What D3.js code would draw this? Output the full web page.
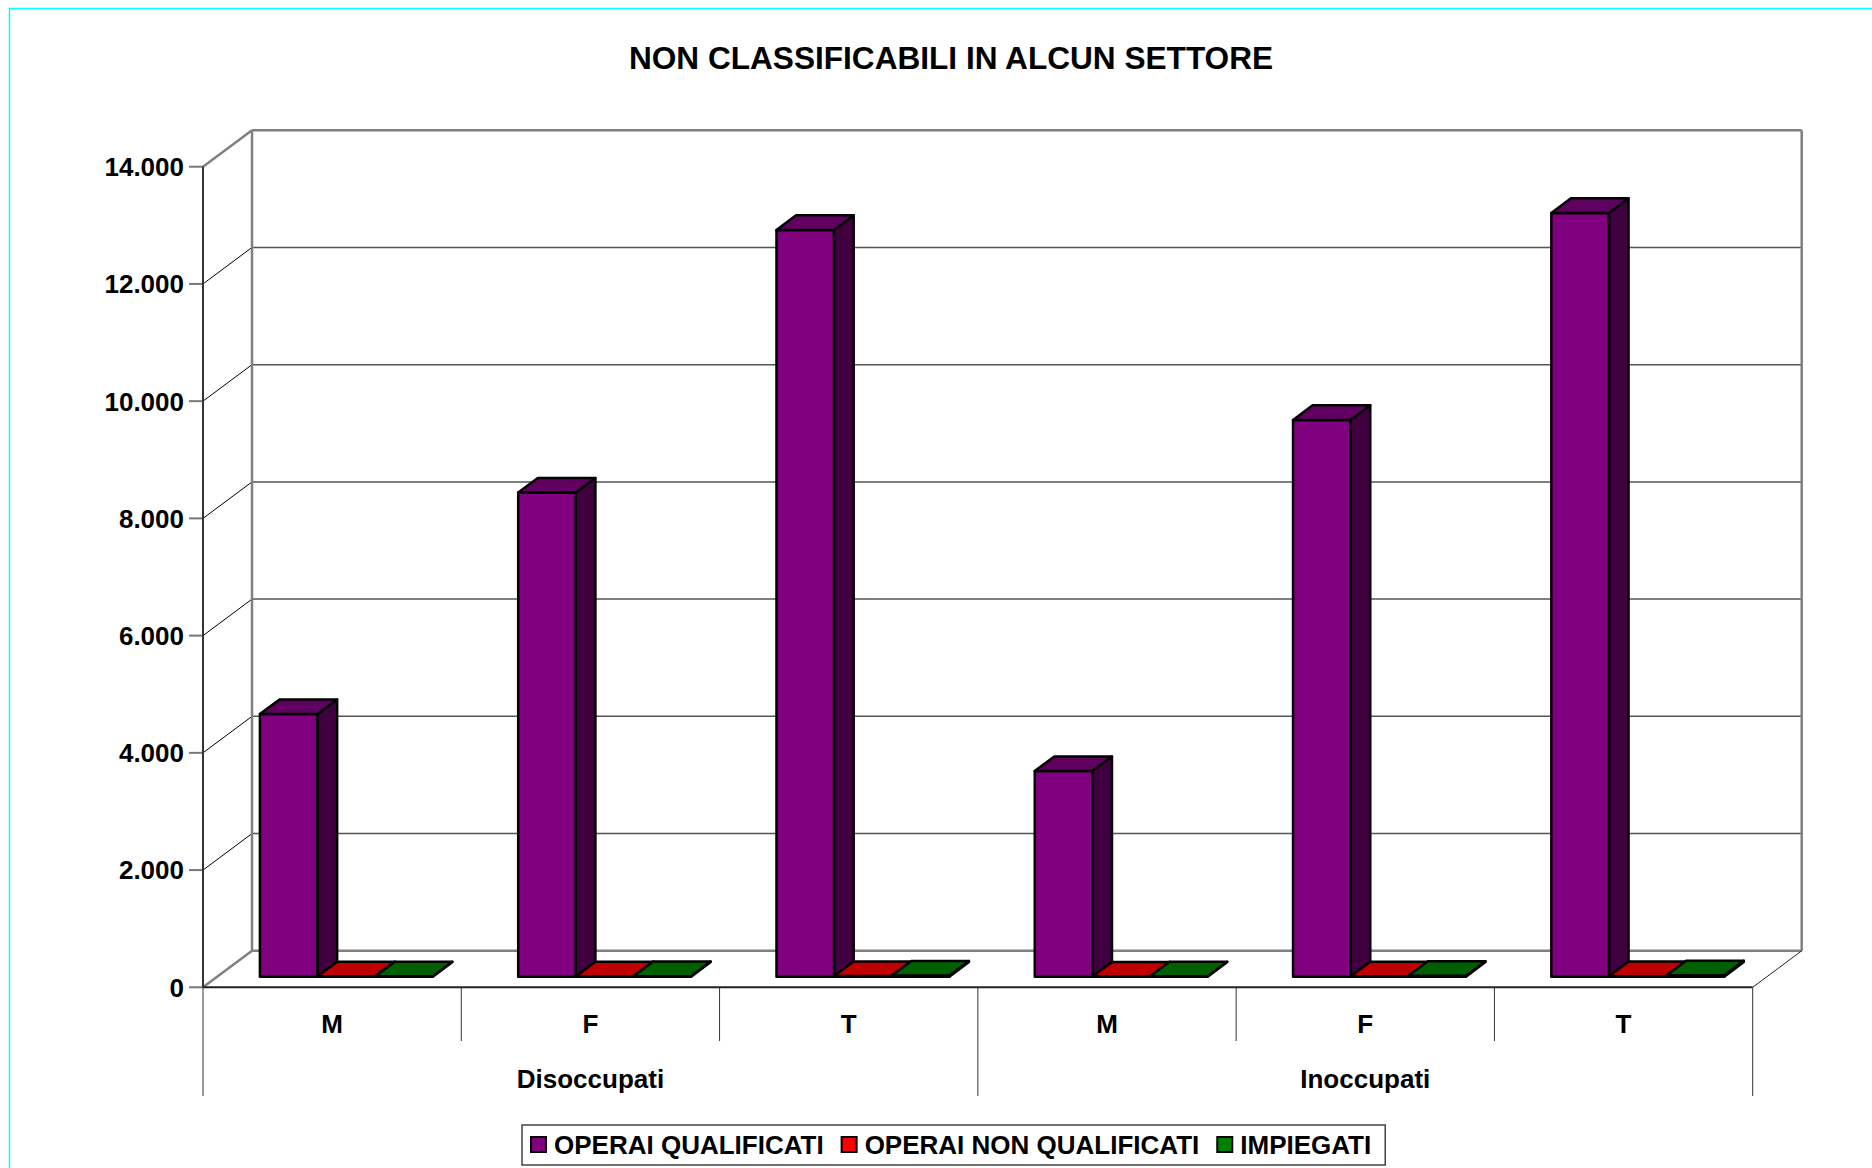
<!DOCTYPE html>
<html>
<head>
<meta charset="utf-8">
<script src="https://cdn.jsdelivr.net/npm/d3@7"></script>
<style>
  html, body { margin: 0; padding: 0; background: #fff; }
  svg { display: block; }
  text { font-family: "Liberation Sans", Arial, sans-serif; font-weight: bold; fill: #000; }
</style>
</head>
<body>
<svg id="chart" width="1872" height="1168"></svg>
<script>
// ---- data ----
const title = "NON CLASSIFICABILI IN ALCUN SETTORE";
const groups = ["Disoccupati", "Inoccupati"];
const subCategories = ["M", "F", "T"];
const categories = ["Disoccupati|M", "Disoccupati|F", "Disoccupati|T", "Inoccupati|M", "Inoccupati|F", "Inoccupati|T"];
const seriesNames = ["OPERAI QUALIFICATI", "OPERAI NON QUALIFICATI", "IMPIEGATI"];
const operaiQualificati = [4480, 8260, 12740, 3510, 9500, 13030];
const operaiNonQualificati = [6, 5, 12, 4, 6, 10];
const impiegati = [8, 10, 20, 6, 15, 25];
const yTicks = [0, 2000, 4000, 6000, 8000, 10000, 12000, 14000];
const yTickLabels = ["0", "2.000", "4.000", "6.000", "8.000", "10.000", "12.000", "14.000"];
const seriesColors = ["#800080", "#FF0000", "#008000"];
const frontColors = ["#800080", "#C00000", "#006000"];
const topColors = ["#600060", "#BF0000", "#006000"];
const sideColors = ["#400040", "#800000", "#004000"];

const seriesValues = [operaiQualificati, operaiNonQualificati, impiegati];

// ---- layout ----
const svg = d3.select("#chart");
const X0 = 203, X1 = 1752.7, YB = 987.3, YT = 166.7;
const DX = 49, DY = -36.5;           // depth vector of the 3D box
const F0 = 0.29, F1 = 0.69;          // depth fractions occupied by bars

const y = d3.scaleLinear().domain([0, 14000]).range([YB, YT]);
const x = d3.scaleBand().domain(categories).range([X0, X1]).padding(0);
const bw = x.bandwidth();
const pad = 42.7;
const xs = d3.scaleBand().domain(seriesNames).range([pad, bw - pad]).padding(0);

// cyan frame
svg.append("rect").attr("x", 9.5).attr("y", 8.5).attr("width", 1900).attr("height", 1200)
  .attr("fill", "none").attr("stroke", "#00FFFF").attr("stroke-width", 1.5);

// title
svg.append("text").attr("x", 951).attr("y", 69).attr("text-anchor", "middle")
  .attr("font-size", 31.6).text(title);

const g = svg.append("g");

// back wall gridlines
yTicks.forEach((t, i) => {
  const yy = y(t);
  const isEdge = (i === 0 || i === yTicks.length - 1);
  g.append("line").attr("x1", X0).attr("y1", yy).attr("x2", X0 + DX).attr("y2", yy + DY)
    .attr("stroke", isEdge ? "#808080" : "#000").attr("stroke-width", isEdge ? 2.5 : 1);
  g.append("line").attr("x1", X0 + DX).attr("y1", yy + DY).attr("x2", X1 + DX).attr("y2", yy + DY)
    .attr("stroke", isEdge ? "#808080" : "#555").attr("stroke-width", isEdge ? 2.5 : 1.5);
  g.append("line").attr("x1", X0 - 14).attr("y1", yy).attr("x2", X0).attr("y2", yy)
    .attr("stroke", "#777").attr("stroke-width", 2);
  svg.append("text").attr("x", X0 - 19).attr("y", yy).attr("dy", "0.36em")
    .attr("text-anchor", "end").attr("font-size", 26).text(yTickLabels[i]);
});
g.append("line").attr("x1", X0 + DX).attr("y1", y(0) + DY).attr("x2", X0 + DX).attr("y2", y(14000) + DY)
  .attr("stroke", "#808080").attr("stroke-width", 2.5);
g.append("line").attr("x1", X1 + DX).attr("y1", y(0) + DY).attr("x2", X1 + DX).attr("y2", y(14000) + DY)
  .attr("stroke", "#808080").attr("stroke-width", 2.5);
g.append("line").attr("x1", X0).attr("y1", YB).attr("x2", X0).attr("y2", YT)
  .attr("stroke", "#333").attr("stroke-width", 2);
g.append("line").attr("x1", X1).attr("y1", YB).attr("x2", X1 + DX).attr("y2", YB + DY)
  .attr("stroke", "#222").attr("stroke-width", 1);

// bars
const pts = p => p.map(d => d.join(",")).join(" ");
categories.forEach((c, ci) => {
  seriesNames.forEach((s, si) => {
    const v = seriesValues[si][ci];
    const xl = x(c) + xs(s) + F0 * DX;
    const xr = xl + xs.bandwidth();
    const ob = F0 * DY;
    const ddx = (F1 - F0) * DX, ddy = (F1 - F0) * DY;
    const yb = y(0) + ob, yt = y(v) + ob;
    const bar = g.append("g").attr("stroke", "#000").attr("stroke-width", 2.5).attr("stroke-linejoin", "round");
    bar.append("polygon").attr("points", pts([[xl, yb], [xr, yb], [xr, yt], [xl, yt]]))
      .attr("fill", frontColors[si]);
    bar.append("polygon").attr("points", pts([[xr, yb], [xr + ddx, yb + ddy], [xr + ddx, yt + ddy], [xr, yt]]))
      .attr("fill", sideColors[si]);
    bar.append("polygon").attr("points", pts([[xl, yt], [xr, yt], [xr + ddx, yt + ddy], [xl + ddx, yt + ddy]]))
      .attr("fill", topColors[si]);
  });
});

// floor front line & category axis
g.append("line").attr("x1", X0).attr("y1", YB).attr("x2", X1).attr("y2", YB)
  .attr("stroke", "#222").attr("stroke-width", 2);
categories.forEach((c, ci) => {
  const xx = x(c);
  const long = ci % 3 === 0;
  g.append("line").attr("x1", xx).attr("y1", YB).attr("x2", xx).attr("y2", long ? 1096 : 1041)
    .attr("stroke", "#333").attr("stroke-width", 1);
  svg.append("text").attr("x", xx + bw / 2).attr("y", 1024).attr("dy", "0.36em")
    .attr("text-anchor", "middle").attr("font-size", 26).text(c.split("|")[1]);
});
g.append("line").attr("x1", X1).attr("y1", YB).attr("x2", X1).attr("y2", 1096)
  .attr("stroke", "#333").attr("stroke-width", 1);
groups.forEach((gr, gi) => {
  const cx = x(categories[gi * 3 + 1]) + bw / 2;
  svg.append("text").attr("x", cx).attr("y", 1079).attr("dy", "0.36em")
    .attr("text-anchor", "middle").attr("font-size", 26).text(gr);
});

// legend
const leg = svg.append("g");
const legBox = leg.append("rect").attr("fill", "#fff").attr("stroke", "#444").attr("stroke-width", 1.5);
let lx = 531;
const ly = 1145;
seriesNames.forEach((s, si) => {
  leg.append("rect").attr("x", lx).attr("y", ly - 8).attr("width", 15).attr("height", 15)
    .attr("fill", seriesColors[si]).attr("stroke", "#000").attr("stroke-width", 2);
  const t = leg.append("text").attr("x", lx + 23).attr("y", ly).attr("dy", "0.36em")
    .attr("font-size", 26).text(s);
  lx += 23 + t.node().getComputedTextLength() + 18;
});
legBox.attr("x", 522).attr("y", 1125).attr("width", lx - 18 - 522 + 14).attr("height", 40);
</script>
</body>
</html>
